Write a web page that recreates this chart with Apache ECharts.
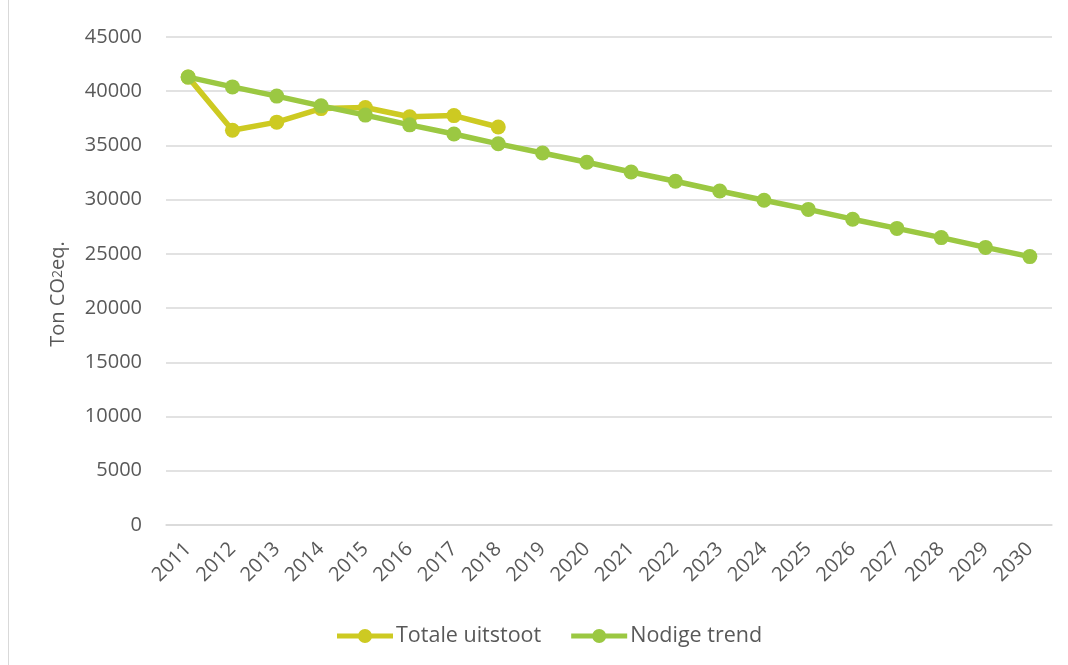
<!DOCTYPE html>
<html><head><meta charset="utf-8">
<script src="https://cdn.jsdelivr.net/npm/echarts@6/dist/echarts.min.js"></script>
<style>
html,body{margin:0;padding:0;background:#fff;overflow:hidden;}
#frame{position:absolute;left:8px;top:-2px;width:1070px;height:700px;border:1px solid #d9d9d9;box-sizing:border-box;}
#c{position:absolute;left:0;top:0;width:1068px;height:665px;}
</style></head>
<body>
<div id="frame"></div>
<div id="c"></div>
<script>
const years = ['2011','2012','2013','2014','2015','2016','2017','2018','2019','2020','2021','2022','2023','2024','2025','2026','2027','2028','2029','2030'];
const totaleUitstoot = [41300, 36400, 37150, 38400, 38500, 37650, 37750, 36700];
const nodigeTrend = [41300, 40400, 39550, 38650, 37800, 36900, 36050, 35150, 34300, 33450, 32550, 31700, 30800, 29950, 29100, 28200, 27350, 26500, 25600, 24750];
const yTicks = {min: 0, max: 45000, interval: 5000};

const chart = echarts.init(document.getElementById('c'), null, {renderer: 'canvas'});
const font = "'Open Sans', 'Noto Sans', sans-serif";
const legendIcon = 'path://M0,5.5 h56 v5 h-56 z M21,8 a7,7 0 1,1 14,0 a7,7 0 1,1 -14,0 z';
chart.setOption({
  animation: false,
  textStyle: {fontFamily: font},
  grid: {left: 166, right: 16, top: 37, bottom: 140},
  legend: {
    bottom: 13, left: 332, itemWidth: 56, itemHeight: 14, itemGap: 30,
    textStyle: {fontSize: 21.5, color: '#595959', fontFamily: font, padding: [0,0,0,-2]},
    data: [{name: 'Totale uitstoot', icon: legendIcon}, {name: 'Nodige trend', icon: legendIcon}]
  },
  xAxis: {
    type: 'category', data: years, boundaryGap: true,
    axisLine: {show: true, lineStyle: {color: '#d9d9d9', width: 1.5}},
    axisTick: {show: false},
    axisLabel: {rotate: 45, fontSize: 20, color: '#595959', margin: 21, fontFamily: font}
  },
  yAxis: {
    type: 'value', min: yTicks.min, max: yTicks.max, interval: yTicks.interval,
    name: 'Ton CO{s|2}eq.', nameLocation: 'middle', nameGap: 98, nameRotate: 90,
    nameTextStyle: {fontSize: 20, color: '#595959', fontFamily: font, padding: [0, 26, 0, 0],
      rich: {s: {fontSize: 14, color: '#595959', fontFamily: font}}},
    axisLine: {show: false}, axisTick: {show: false},
    axisLabel: {fontSize: 20, color: '#595959', margin: 24, fontFamily: font, formatter: v => String(v)},
    splitLine: {lineStyle: {color: '#d9d9d9', width: 1.5}}
  },
  series: [
    {name: 'Totale uitstoot', type: 'line', data: totaleUitstoot, symbol: 'circle', symbolSize: 15,
     lineStyle: {color: '#cdca22', width: 5.5}, itemStyle: {color: '#cdca22'}, z: 2},
    {name: 'Nodige trend', type: 'line', data: nodigeTrend, symbol: 'circle', symbolSize: 15,
     lineStyle: {color: '#9bc842', width: 5.5}, itemStyle: {color: '#9bc842'}, z: 3}
  ]
});
</script>
</body></html>
